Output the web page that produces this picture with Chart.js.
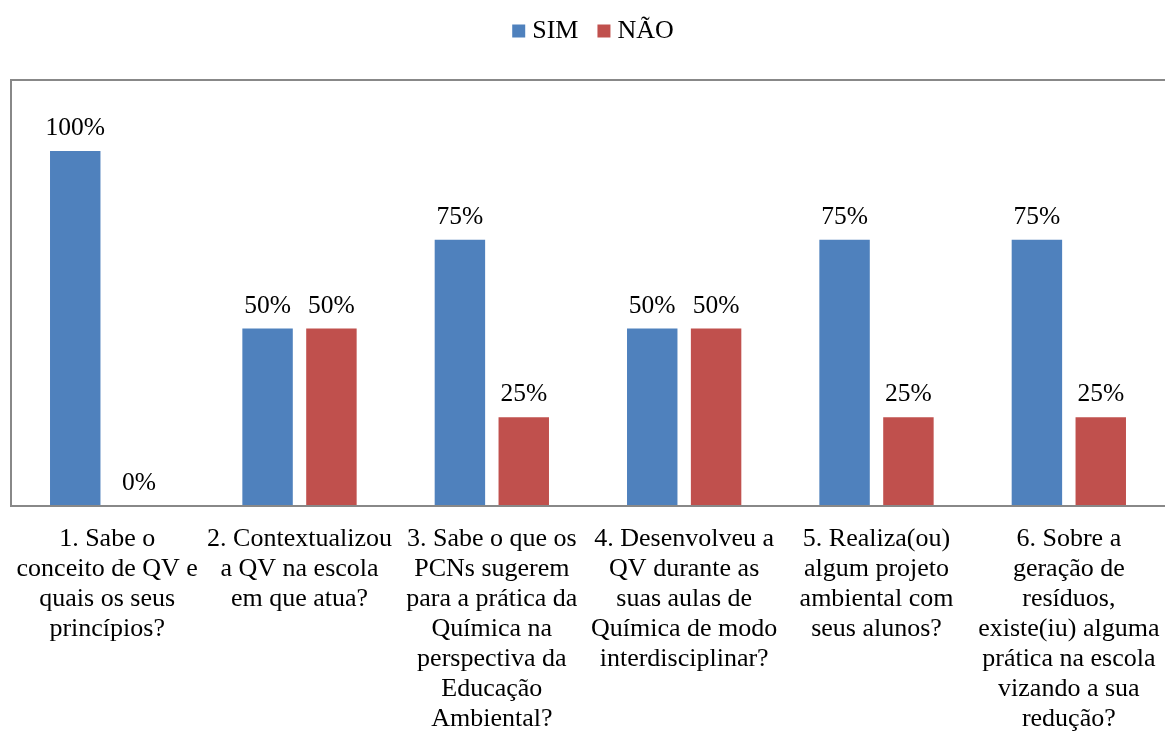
<!DOCTYPE html>
<html>
<head>
<meta charset="utf-8">
<script src="https://cdn.jsdelivr.net/npm/chart.js@4"></script>
<style>
  html, body { margin: 0; padding: 0; background: #fff; }
  #wrap { width: 1165px; height: 733px; }
</style>
</head>
<body>
<div id="wrap"><canvas id="chart"></canvas></div>
<script>
const categories = [
  ['1. Sabe o', 'conceito de QV e', 'quais os seus', 'princípios?'],
  ['2. Contextualizou', 'a QV na escola', 'em que atua?'],
  ['3. Sabe o que os', 'PCNs sugerem', 'para a prática da', 'Química na', 'perspectiva da', 'Educação', 'Ambiental?'],
  ['4. Desenvolveu a', 'QV durante as', 'suas aulas de', 'Química de modo', 'interdisciplinar?'],
  ['5. Realiza(ou)', 'algum projeto', 'ambiental com', 'seus alunos?'],
  ['6. Sobre a', 'geração de', 'resíduos,', 'existe(iu) alguma', 'prática na escola', 'vizando a sua', 'redução?']
];
const simValues = [100, 50, 75, 50, 75, 75];
const naoValues = [0, 50, 25, 50, 25, 25];

const serif = "'Liberation Serif', 'Times New Roman', serif";

// value labels above each bar
const valueLabels = {
  id: 'valueLabels',
  afterDatasetsDraw(chart) {
    const ctx = chart.ctx;
    ctx.save();
    ctx.font = '25.5px ' + serif;
    ctx.fillStyle = '#000';
    ctx.textAlign = 'center';
    ctx.textBaseline = 'alphabetic';
    chart.data.datasets.forEach((ds, i) => {
      chart.getDatasetMeta(i).data.forEach((bar, j) => {
        ctx.fillText(ds.data[j] + '%', bar.x, bar.y - 16);
      });
    });
    ctx.restore();
  }
};

// grey frame round the plot (left, top, bottom)
const plotFrame = {
  id: 'plotFrame',
  afterLayout(chart) {
    // legend sits a little right of centre in the original
    chart.legend.left += 7;
    chart.legend.right += 7;
  },
  afterDraw(chart) {
    const a = chart.chartArea;
    const ctx = chart.ctx;
    ctx.save();
    ctx.strokeStyle = '#888888';
    ctx.lineWidth = 2;
    ctx.beginPath();
    ctx.moveTo(a.right + 5, a.top);
    ctx.lineTo(a.left, a.top);
    ctx.lineTo(a.left, a.bottom);
    ctx.lineTo(a.right + 5, a.bottom);
    ctx.stroke();
    ctx.restore();
  }
};

new Chart(document.getElementById('chart'), {
  type: 'bar',
  data: {
    labels: categories,
    datasets: [
      {
        label: 'SIM',
        data: simValues,
        backgroundColor: '#4F81BD',
        categoryPercentage: 0.664,
        barPercentage: 0.79
      },
      {
        label: 'NÃO',
        data: naoValues,
        backgroundColor: '#C0504D',
        categoryPercentage: 0.664,
        barPercentage: 0.79
      }
    ]
  },
  options: {
    responsive: true,
    maintainAspectRatio: false,
    animation: false,
    layout: {
      padding: { top: -7, left: 11, right: -2, bottom: 0 }
    },
    plugins: {
      legend: {
        position: 'top',
        labels: {
          usePointStyle: true,
          pointStyle: 'rect',
          boxWidth: 1,
          boxHeight: 13,
          padding: 25,
          color: '#000',
          font: { size: 26, family: serif }
        }
      },
      // empty spacer between legend and plot
      subtitle: {
        display: true,
        text: '',
        weight: 500,
        padding: 0,
        font: { size: 20, lineHeight: 1.3 }
      },
      tooltip: { enabled: false }
    },
    scales: {
      x: {
        grid: { display: false },
        border: { display: false },
        ticks: {
          color: '#000',
          maxRotation: 0,
          minRotation: 0,
          autoSkip: false,
          padding: 10,
          font: { size: 26, family: serif, lineHeight: 1.155 }
        },
        afterFit(scale) {
          scale.height = 227;
          scale.paddingLeft = 0;
          scale.paddingRight = 0;
        }
      },
      y: {
        display: false,
        min: 0,
        max: 120
      }
    }
  },
  plugins: [valueLabels, plotFrame]
});
</script>
</body>
</html>
